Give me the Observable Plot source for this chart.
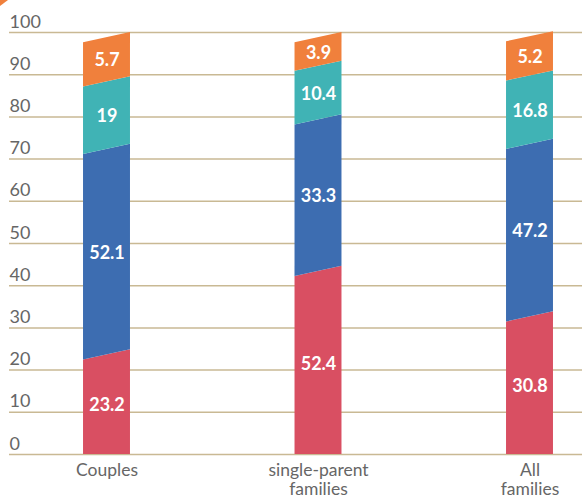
<!DOCTYPE html>
<html>
<head>
<meta charset="utf-8">
<script src="https://cdn.jsdelivr.net/npm/d3@7"></script>
<script src="https://cdn.jsdelivr.net/npm/@observablehq/plot@0.6"></script>
<style>
  html, body { margin: 0; padding: 0; background: #fff; }
  #wrap { position: relative; width: 582px; height: 499px; }
  #corner { position: absolute; left: 0; top: 0; width: 0; height: 0;
    border-top: 6px solid #f0803c; border-right: 8px solid transparent; }
</style>
</head>
<body>
<div id="wrap"><div id="corner"></div></div>
<script>
// Categories (x axis labels)
const categories = ["Couples", "single-parent\nfamilies", "All\nfamilies"];
// Printed values of each segment (bottom to top)
const labelRed    = [23.2, 52.4, 30.8];
const labelBlue   = [52.1, 33.3, 47.2];
const labelTeal   = [19, 10.4, 16.8];
const labelOrange = [5.7, 3.9, 5.2];
const drawnRed    = [23.6, 43.4, 32.6];
const drawnBlue   = [48.7, 35.9, 40.9];
const drawnTeal   = [16.0, 12.7, 16.2];
const drawnOrange = [10.5, 6.8, 9.3];
// Y tick values
const yTicks = [0, 10, 20, 30, 40, 50, 60, 70, 80, 90, 100];

const series = [
  {name: "red",    color: "#d94f62", drawn: drawnRed,    label: labelRed},
  {name: "blue",   color: "#3d6db1", drawn: drawnBlue,   label: labelBlue},
  {name: "teal",   color: "#40b3b5", drawn: drawnTeal,   label: labelTeal},
  {name: "orange", color: "#f0803c", drawn: drawnOrange, label: labelOrange}
];

const hw = 0.111;   // half bar width in category units
const slant = 1.2;  // slant of segment edges in y units

const areaRows = [];
const textRows = [];
categories.forEach((c, i) => {
  let base = 0;
  series.forEach(s => {
    const b0 = base, b1 = base + s.drawn[i];
    const key = s.name + "-" + i;
    areaRows.push({series: s.name, key, x: i - hw, y1: b0 === 0 ? 0 : b0 - slant, y2: b1 - slant});
    areaRows.push({series: s.name, key, x: i + hw, y1: b0 === 0 ? 0 : b0 + slant, y2: b1 + slant});
    textRows.push({x: i, y: (b0 + b1) / 2, text: String(s.label[i])});
    base = b1;
  });
});

const chart = Plot.plot({
  width: 582,
  height: 499,
  marginLeft: 9,
  marginRight: 0,
  marginTop: 0,
  marginBottom: 0,
  style: {background: "transparent", fontFamily: "Lato, sans-serif"},
  x: {domain: [0, 2], range: [106.5, 529.5], axis: null},
  y: {domain: [0, 100], range: [454, 32], axis: null},
  marks: [
    Plot.ruleY(yTicks, {y: d => d, stroke: "#c9b994", strokeWidth: 1.5}),
    Plot.text(yTicks, {y: d => d, text: d => String(d), frameAnchor: "left", textAnchor: "start",
      lineAnchor: "bottom", dy: -5, fill: "#666", fontSize: 18}),
    ...series.map(s => Plot.areaY(areaRows.filter(r => r.series === s.name),
      {x: "x", y1: "y1", y2: "y2", z: "key", fill: s.color})),
    Plot.text(textRows, {x: "x", y: "y", text: "text", fill: "white", fontWeight: "bold",
      fontSize: 18, dy: 1}),
    Plot.text(categories, {x: (d, i) => i, y: () => 0, text: d => d, lineAnchor: "top",
      dy: 8, fill: "#666", fontSize: 17.5, lineHeight: 1.08})
  ]
});
document.getElementById("wrap").appendChild(chart);
</script>
</body>
</html>
